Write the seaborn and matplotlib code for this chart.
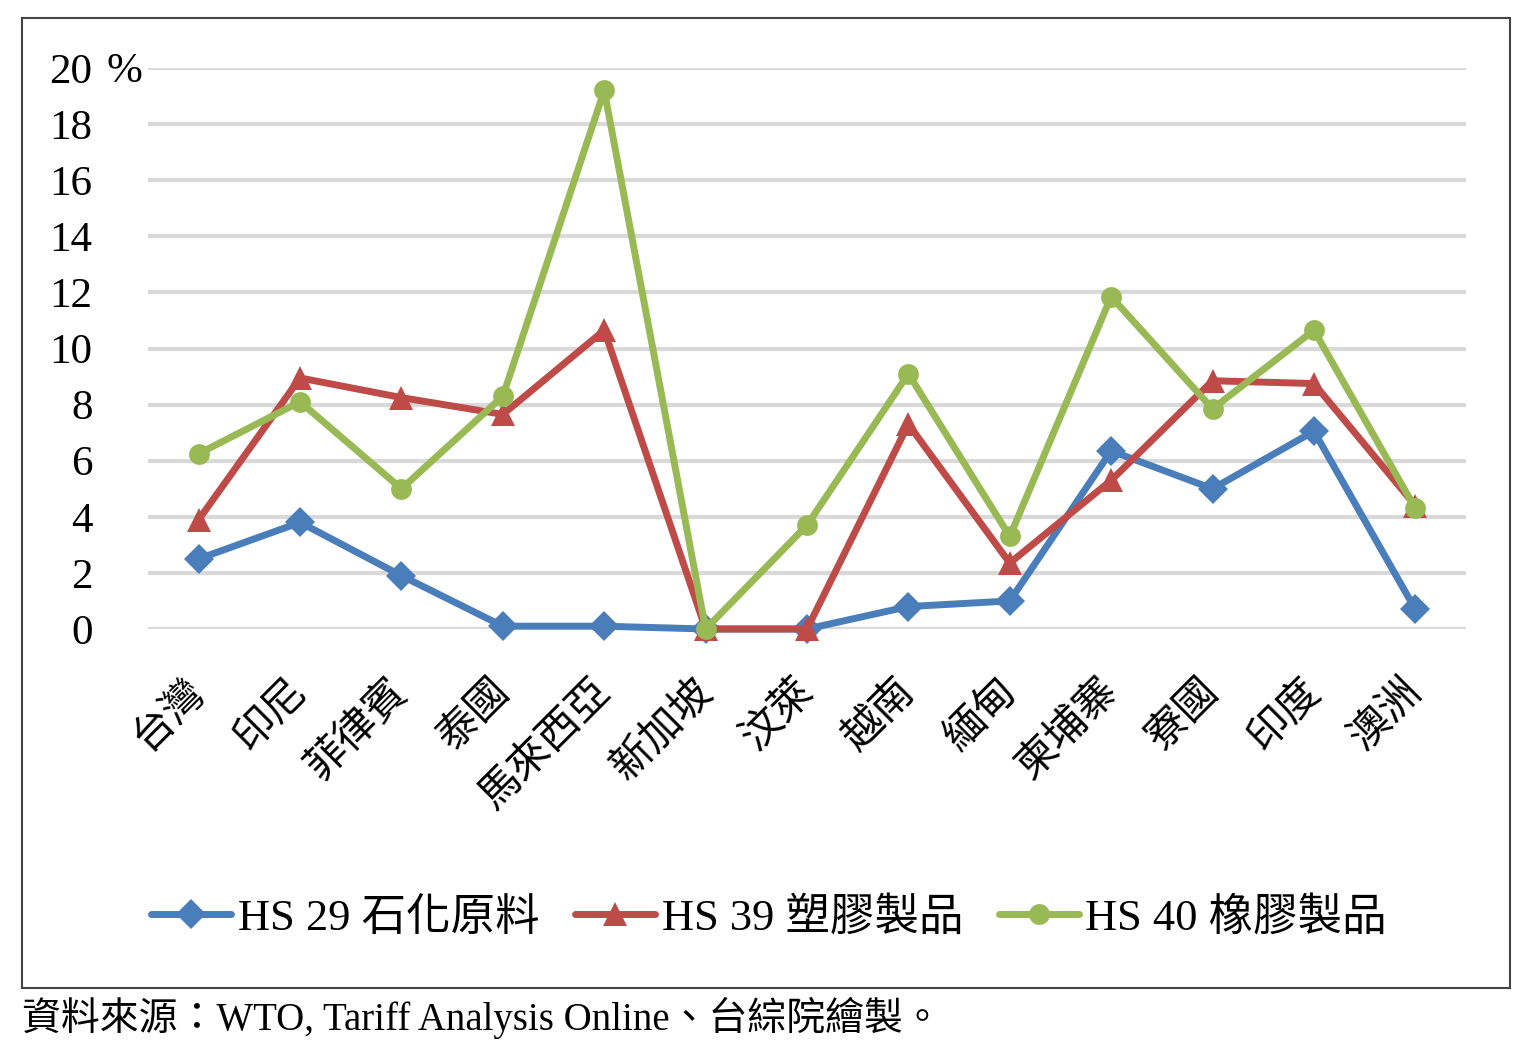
import matplotlib
matplotlib.use("Agg")
import matplotlib.pyplot as plt
import seaborn as sns
import pandas as pd
import numpy as np
from matplotlib.patches import Rectangle

# data (%)
countries = ['台灣', '印尼', '菲律賓', '泰國', '馬來西亞', '新加坡', '汶萊',
             '越南', '緬甸', '柬埔寨', '寮國', '印度', '澳洲']
hs29 = [2.5, 3.8, 1.9, 0.1, 0.1, 0.0, 0.0, 0.8, 1.0, 6.35, 5.0, 7.05, 0.7]
hs39 = [3.9, 8.95, 8.25, 7.65, 10.65, 0.0, 0.0, 7.3, 2.35, 5.3, 8.85, 8.75, 4.4]
hs40 = [6.25, 8.1, 5.0, 8.3, 19.2, 0.0, 3.7, 9.1, 3.3, 11.85, 7.85, 10.65, 4.3]
series_names = ['HS 29 石化原料', 'HS 39 塑膠製品', 'HS 40 橡膠製品']
yticks = [0, 2, 4, 6, 8, 10, 12, 14, 16, 18, 20]
source_note = '資料來源：WTO, Tariff Analysis Online、台綜院繪製。'

colors = ['#4a7ebb', '#be4b48', '#98b954']
markers = ['D', '^', 'o']
msizes = [15, 17, 15]

sns.set_theme(style='white')
plt.rcParams['font.family'] = ['Liberation Serif', 'Noto Sans CJK TC']
plt.rcParams['text.color'] = 'black'
plt.rcParams['xtick.color'] = 'black'
plt.rcParams['ytick.color'] = 'black'

pos = np.arange(len(countries))
df = pd.concat([
    pd.DataFrame({'pos': pos, 'value': vals, 'series': name})
    for name, vals in zip(series_names, [hs29, hs39, hs40])
])

fig = plt.figure(figsize=(15.38, 10.41), dpi=100)
ax = fig.add_axes([148 / 1538, 1 - 629 / 1041, (1466 - 148) / 1538, (629 - 68) / 1041])

for name, c, m, ms in zip(series_names, colors, markers, msizes):
    sub = df[df['series'] == name]
    sns.lineplot(data=sub, x='pos', y='value', color=c, marker=m, markersize=ms,
                 markeredgewidth=0, linewidth=5, sort=False, ax=ax,
                 clip_on=False, label=name, legend=False)

ax.set_xlim(-0.5, len(countries) - 0.5)
ax.set_ylim(0, 20)
ax.set_yticks(yticks)
ax.set_yticklabels([str(t) for t in yticks], fontsize=31)
ax.set_xticks(pos)
ax.set_xticklabels(countries, rotation=45, ha='right', va='center',
                   rotation_mode='anchor', fontsize=30, family=['Noto Sans CJK TC'])
ax.tick_params(axis='y', length=0, pad=40)
ax.tick_params(axis='x', length=0, pad=40)
ax.set_xlabel('')
ax.set_ylabel('')
ax.yaxis.grid(True, color='#d9d9d9', linewidth=3)
ax.xaxis.grid(False)
ax.set_axisbelow(True)
for s in ax.spines.values():
    s.set_visible(False)

ax.text(-0.018, 19.85, '%', transform=ax.get_yaxis_transform(), ha='center',
        va='center', fontsize=31)

handles = ax.lines[:3]
fig.legend(handles, series_names, loc='center', bbox_to_anchor=(0.5, 1 - 918 / 1041),
           ncol=3, frameon=False, fontsize=32, handlelength=1.8, columnspacing=0.8,
           handletextpad=0.15)

fig.patches.append(Rectangle((22 / 1538, 1 - 988 / 1041), (1510 - 22) / 1538,
                             (988 - 18) / 1041, transform=fig.transFigure,
                             fill=False, edgecolor='#444444', linewidth=1.5))

fig.text(22 / 1538, 1 - 1018 / 1041, source_note, ha='left', va='center', fontsize=28)

fig.savefig('out.png', dpi=100)
